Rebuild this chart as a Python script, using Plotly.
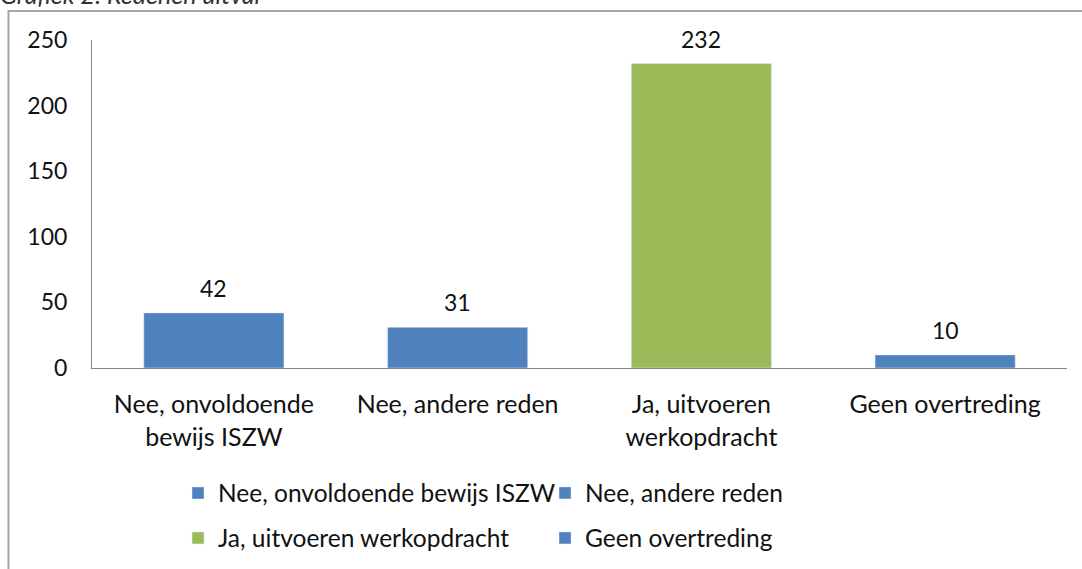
import plotly.graph_objects as go

categories = ["Nee, onvoldoende bewijs ISZW", "Nee, andere reden",
              "Ja, uitvoeren werkopdracht", "Geen overtreding"]
tick_labels = ["Nee, onvoldoende<br>bewijs ISZW", "Nee, andere reden",
               "Ja, uitvoeren<br>werkopdracht", "Geen overtreding"]
values = [42, 31, 232, 10]
colors = ["#4F81BD", "#4F81BD", "#9BBB59", "#4F81BD"]
legend_ids = ["legend", "legend", "legend2", "legend2"]
title_text = "Grafiek 2: Redenen uitval"

FONT = "Lato, Open Sans, sans-serif"
FS = 25
FSL = 24.5
FSN = 23
TXT = "#111111"

# plot area in pixels
L, R, T, B = 92, 1067, 40, 368
PW, PH = R - L, B - T


def px_x(p):
    return (p - L) / PW


def px_y(p):
    return (B - p) / PH


fig = go.Figure()
for cat, val, col, lg in zip(categories, values, colors, legend_ids):
    fig.add_trace(go.Bar(
        x=[cat], y=[val], name=cat, marker_color=col, width=0.575,
        legend=lg, showlegend=True,
    ))

for cat, val in zip(categories, values):
    fig.add_annotation(x=cat, y=val, text=str(val), showarrow=False,
                       yanchor="bottom", yshift=9,
                       font=dict(family=FONT, size=FSN, color=TXT))

fig.add_annotation(xref="paper", yref="paper", x=px_x(-2), y=px_y(11),
                   xanchor="left", yanchor="bottom", text=title_text,
                   showarrow=False,
                   font=dict(family=FONT, size=FS, color="#333333", style="italic"))

fig.add_shape(type="rect", xref="paper", yref="paper",
              x0=px_x(8.5), x1=px_x(1095), y0=px_y(590), y1=px_y(11),
              line=dict(color="#A6A6A6", width=2), fillcolor="rgba(0,0,0,0)")

legend_common = dict(orientation="h", xanchor="left", yanchor="middle",
                     entrywidth=322, entrywidthmode="pixels",
                     font=dict(family=FONT, size=FSL, color=TXT),
                     bgcolor="rgba(0,0,0,0)")

fig.update_layout(
    width=1082, height=569,
    margin=dict(l=L, r=1082 - R, t=T, b=569 - B, autoexpand=False),
    paper_bgcolor="white", plot_bgcolor="white",
    barmode="overlay",
    font=dict(family=FONT, size=FS, color=TXT),
    legend=dict(x=px_x(178), y=px_y(493), **legend_common),
    legend2=dict(x=px_x(178), y=px_y(538), **legend_common),
    xaxis=dict(
        categoryorder="array", categoryarray=categories,
        tickvals=categories, ticktext=tick_labels,
        showline=True, linecolor="#868686", linewidth=1,
        ticks="", showgrid=False, zeroline=False,
        ticklabelstandoff=14,
        tickfont=dict(family=FONT, size=FS, color=TXT),
    ),
    yaxis=dict(
        range=[0, 250], dtick=50, tick0=0,
        showline=True, linecolor="#868686", linewidth=1,
        ticks="", showgrid=False, zeroline=False,
        ticklabelstandoff=19,
        tickfont=dict(family=FONT, size=FSN, color=TXT),
    ),
)

fig.write_html("out.html",
               config={"displayModeBar": False},
               post_script="document.body.style.margin='0';document.body.style.padding='0';")
